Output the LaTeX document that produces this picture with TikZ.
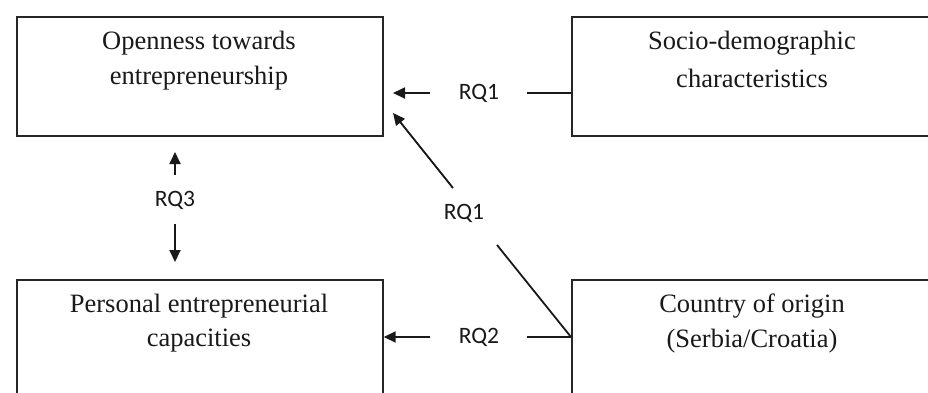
\documentclass[tikz,border=0pt]{standalone}
\usepackage{fontspec}
\setmainfont{Liberation Serif}
\newfontfamily\labfont{Carlito}
\usetikzlibrary{arrows.meta}
\begin{document}
\begin{tikzpicture}[x=1pt,y=-1pt,
  box/.style={draw=black!85, line width=1.7pt, inner sep=0pt, anchor=north west},
  boxtext/.style={font=\fontsize{26.5}{35}\selectfont, text=black!90, inner sep=0pt, align=center},
  rqlabel/.style={font=\labfont\fontsize{23.5}{27}\selectfont, text=black!90, inner sep=0pt},
  conn/.style={draw=black!90, line width=1.8pt},
  arr/.style={conn, -{Triangle[length=12pt,width=11pt]}}]
\useasboundingbox (0,0) rectangle (928,392);
\clip (0,0) rectangle (928,392);
\fill[white] (0,0) rectangle (928,392);
% boxes
\node[box, minimum width=366pt, minimum height=119pt] (ote) at (16,16) {};
\node[box, minimum width=362pt, minimum height=119pt] (sdc) at (571,16) {};
\node[box, minimum width=366pt, minimum height=119pt] (pec) at (16,279) {};
\node[box, minimum width=362pt, minimum height=119pt] (coo) at (571,279) {};
% box texts
\node[boxtext] (t1a) at (199,43) {Openness towards};
\node[boxtext] (t1b) at (199,78) {entrepreneurship};
\node[boxtext] (t2a) at (752,43) {Socio-demographic};
\node[boxtext] (t2b) at (752,78) {characteristics};
\node[boxtext] (t3a) at (199,306) {Personal entrepreneurial};
\node[boxtext] (t3b) at (199,341) {capacities};
\node[boxtext] (t4a) at (752,306) {Country of origin};
\node[boxtext] (t4b) at (752,341) {(Serbia/Croatia)};
% labels
\node[rqlabel] (rq1a) at (479,93) {RQ1};
\node[rqlabel] (rq1b) at (464,213) {RQ1};
\node[rqlabel] (rq2) at (479,337) {RQ2};
\node[rqlabel] (rq3) at (175,200) {RQ3};
% connector points
\coordinate (a1s) at (430,93);
\coordinate (a1e) at (393,93);
\coordinate (l1s) at (527,93);
\coordinate (l1e) at (sdc.west |- l1s);
\coordinate (d1s) at (453,188);
\coordinate (d1e) at (393,113);
\coordinate (dls) at (497,245);
\coordinate (dle) at (571,337);
\coordinate (a2s) at (430,337);
\coordinate (a2e) at (pec.east |- a2s);
\coordinate (l2s) at (527,337);
\coordinate (l2e) at (coo.west |- l2s);
\coordinate (u1s) at (175,175);
\coordinate (u1e) at (175,152);
\coordinate (v1s) at (175,224);
\coordinate (v1e) at (175,262);
% connectors
\draw[arr] (a1s) -- (a1e);
\draw[conn] (l1s) -- (l1e);
\draw[arr] (d1s) -- (d1e);
\draw[conn] (dls) -- (dle);
\draw[arr] (a2s) -- (a2e);
\draw[conn] (l2s) -- (l2e);
\draw[arr] (u1s) -- (u1e);
\draw[arr] (v1s) -- (v1e);
\end{tikzpicture}
\end{document}
